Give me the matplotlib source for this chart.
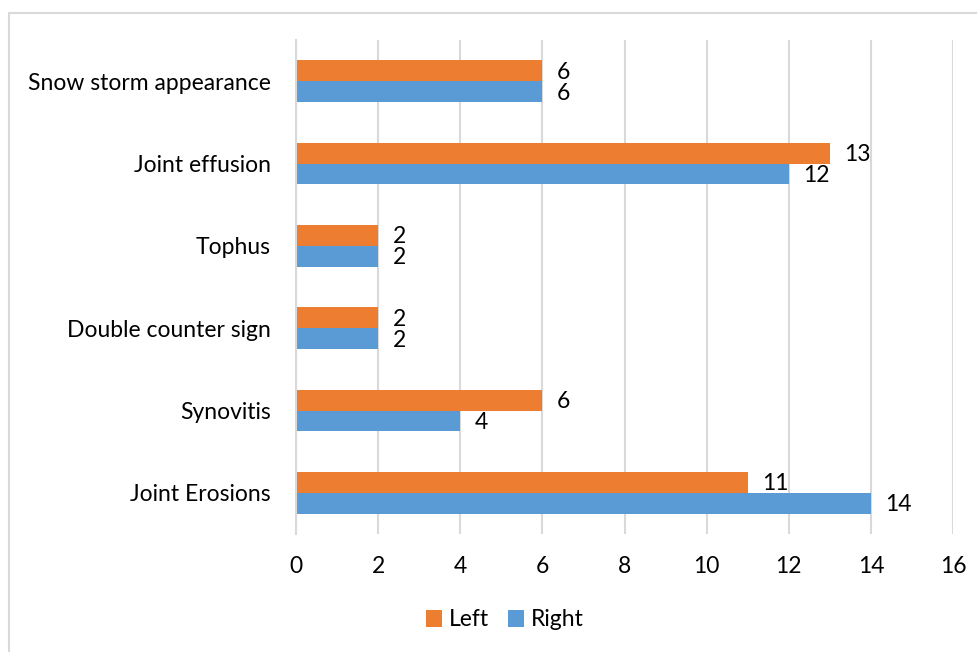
import matplotlib
matplotlib.use("Agg")
import matplotlib.pyplot as plt
import numpy as np
from matplotlib.patches import Rectangle

categories = ["Joint Erosions", "Synovitis", "Double counter sign",
              "Tophus", "Joint effusion", "Snow storm appearance"]
left_vals = [11, 6, 2, 2, 13, 6]
right_vals = [14, 4, 2, 2, 12, 6]
xticks = [0, 2, 4, 6, 8, 10, 12, 14, 16]

plt.rcParams["font.family"] = ["Lato", "DejaVu Sans"]
FS = 16.5

W, H = 977, 652
fig = plt.figure(figsize=(W / 100, H / 100), dpi=100)
ax = fig.add_axes([296 / W, 1 - 534 / H, (953 - 296) / W, (534 - 40) / H])

# chart frame
fig.patches.append(Rectangle((8.5 / W, -0.1), 1.2, 1 - 12.5 / H + 0.1,
                             transform=fig.transFigure, fill=False,
                             edgecolor="#D9D9D9", linewidth=1.5))

y = np.arange(len(categories))
h = 0.255
orange = "#ED7D31"
blue = "#5B9BD5"

bl = ax.barh(y + h / 2, left_vals, height=h, color=orange, label="Left", zorder=3)
br = ax.barh(y - h / 2, right_vals, height=h, color=blue, label="Right", zorder=3)

for bars, vals in ((bl, left_vals), (br, right_vals)):
    for b, v in zip(bars, vals):
        ax.annotate(str(v), (v, b.get_y() + b.get_height() / 2),
                    xytext=(10.5, -1), textcoords="offset points",
                    va="center", ha="left", fontsize=FS, color="#000000")

ax.set_xlim(0, 16)
ax.set_ylim(-0.5, len(categories) - 0.5)
ax.set_xticks(xticks)
ax.set_xticklabels([str(t) for t in xticks], fontsize=FS)
ax.set_yticks(y)
ax.set_yticklabels(categories, fontsize=FS)
ax.tick_params(axis="both", length=0)
ax.tick_params(axis="x", pad=16)
ax.tick_params(axis="y", pad=18)

ax.grid(axis="x", color="#D9D9D9", linewidth=1.5, zorder=0)
for s in ("top", "right", "bottom"):
    ax.spines[s].set_visible(False)
ax.spines["left"].set_color("#D9D9D9")
ax.spines["left"].set_linewidth(1.5)
ax.spines["left"].set_zorder(4)

fig.legend(handles=[bl, br], labels=["Left", "Right"], loc="center",
           bbox_to_anchor=(505 / W, 1 - 620 / H), ncol=2, frameon=False,
           fontsize=FS, handlelength=0.7, handleheight=0.7,
           handletextpad=0.3, columnspacing=0.8)

fig.savefig("out.png", dpi=100)
